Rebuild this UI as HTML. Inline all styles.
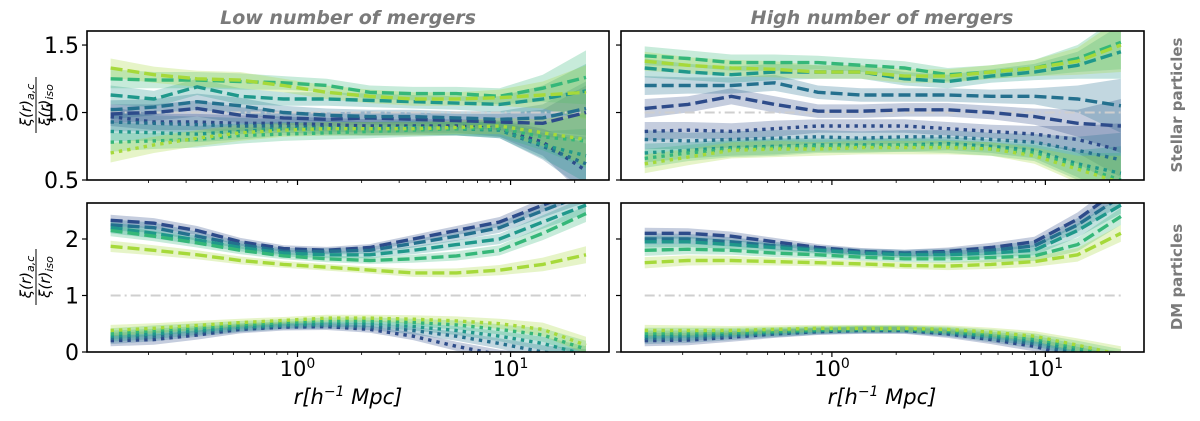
<!DOCTYPE html>
<html><head><meta charset="utf-8"><style>
html,body{margin:0;padding:0;background:#fff;width:1200px;height:421px;overflow:hidden}
svg{display:block;font-family:"DejaVu Sans","Liberation Sans",sans-serif}
</style></head><body>
<svg id="fig" width="1200" height="421" viewBox="0 0 1200 421"></svg>
<script>
// ---- data ----
const xLogMin = -0.877, xLogMax = 1.354;
const nPts = 12;
const colors = ["#2d4b8a","#24708e","#1f988b","#35b779","#a6d93a"]; // dark blue -> lime
const seriesNames = ["dark-blue","blue-teal","teal","green","lime"];

const lowStellarDash = [
 [0.99,1.00,1.03,0.98,0.96,0.95,0.96,0.95,0.94,0.93,0.92,1.00],
 [1.02,1.04,1.08,1.05,1.00,0.98,0.97,0.97,0.96,0.95,0.96,1.03],
 [1.13,1.10,1.19,1.12,1.10,1.10,1.09,1.08,1.07,1.06,1.10,1.16],
 [1.25,1.24,1.24,1.23,1.22,1.20,1.15,1.14,1.14,1.12,1.18,1.26],
 [1.33,1.28,1.25,1.24,1.20,1.15,1.12,1.10,1.10,1.11,1.13,1.15]];
const lowStellarDot = [
 [0.97,0.93,0.93,0.92,0.92,0.91,0.90,0.90,0.90,0.88,0.78,0.57],
 [0.93,0.92,0.91,0.90,0.90,0.89,0.88,0.88,0.88,0.87,0.75,0.62],
 [0.86,0.85,0.84,0.86,0.88,0.88,0.88,0.89,0.88,0.87,0.76,0.68],
 [0.78,0.79,0.80,0.83,0.84,0.85,0.86,0.87,0.88,0.88,0.82,0.79],
 [0.70,0.76,0.81,0.85,0.87,0.88,0.88,0.88,0.89,0.90,0.85,0.80]];
const highStellarDash = [
 [1.03,1.06,1.12,1.06,1.01,1.01,1.02,1.02,1.00,0.97,0.92,0.90],
 [1.20,1.20,1.20,1.22,1.15,1.13,1.13,1.13,1.12,1.12,1.10,1.05],
 [1.33,1.30,1.28,1.30,1.30,1.30,1.25,1.23,1.27,1.30,1.35,1.45],
 [1.42,1.40,1.37,1.37,1.37,1.35,1.33,1.28,1.30,1.33,1.40,1.52],
 [1.38,1.35,1.33,1.32,1.30,1.30,1.27,1.27,1.30,1.33,1.38,1.50]];
const highStellarDot = [
 [0.86,0.87,0.86,0.88,0.90,0.90,0.90,0.88,0.86,0.84,0.80,0.72],
 [0.80,0.79,0.80,0.81,0.82,0.81,0.82,0.82,0.80,0.78,0.72,0.65],
 [0.70,0.72,0.74,0.75,0.76,0.76,0.76,0.77,0.75,0.72,0.62,0.55],
 [0.66,0.70,0.73,0.74,0.75,0.75,0.76,0.75,0.73,0.70,0.60,0.50],
 [0.62,0.67,0.72,0.73,0.73,0.74,0.74,0.74,0.73,0.68,0.58,0.48]];
const lowDMDash = [
 [2.33,2.28,2.15,1.95,1.83,1.80,1.85,2.00,2.15,2.30,2.60,2.90],
 [2.25,2.20,2.05,1.90,1.78,1.78,1.80,1.92,2.05,2.20,2.50,2.80],
 [2.20,2.10,1.98,1.85,1.75,1.72,1.72,1.80,1.90,2.00,2.30,2.60],
 [2.15,2.05,1.93,1.80,1.70,1.65,1.62,1.65,1.70,1.80,2.10,2.45],
 [1.87,1.80,1.72,1.62,1.55,1.50,1.45,1.40,1.40,1.45,1.55,1.72]];
const lowDMDot = [
 [0.20,0.22,0.30,0.40,0.44,0.45,0.40,0.28,0.10,-0.05,-0.15,-0.20],
 [0.24,0.28,0.35,0.42,0.46,0.47,0.45,0.38,0.28,0.15,0.00,-0.10],
 [0.28,0.32,0.38,0.44,0.48,0.50,0.50,0.45,0.38,0.28,0.15,-0.05],
 [0.32,0.38,0.43,0.48,0.52,0.55,0.55,0.52,0.48,0.40,0.30,0.05],
 [0.38,0.42,0.47,0.52,0.56,0.60,0.60,0.58,0.55,0.50,0.40,0.12]];
const highDMDash = [
 [2.10,2.10,2.05,1.95,1.85,1.78,1.75,1.78,1.85,1.95,2.35,2.90],
 [2.00,2.00,1.95,1.88,1.82,1.77,1.75,1.76,1.80,1.88,2.25,2.75],
 [1.95,1.95,1.90,1.85,1.80,1.75,1.72,1.72,1.75,1.80,2.15,2.60],
 [1.80,1.82,1.80,1.75,1.72,1.68,1.65,1.65,1.67,1.70,1.90,2.40],
 [1.58,1.62,1.62,1.60,1.58,1.56,1.53,1.52,1.55,1.60,1.72,2.10]];
const highDMDot = [
 [0.20,0.21,0.26,0.32,0.36,0.38,0.38,0.32,0.22,0.10,-0.10,-0.25],
 [0.24,0.25,0.29,0.33,0.37,0.39,0.39,0.34,0.25,0.15,-0.03,-0.20],
 [0.28,0.29,0.32,0.35,0.38,0.40,0.40,0.36,0.28,0.20,0.02,-0.15],
 [0.33,0.34,0.35,0.37,0.40,0.41,0.41,0.38,0.32,0.24,0.08,-0.10],
 [0.38,0.38,0.38,0.40,0.42,0.42,0.42,0.40,0.35,0.28,0.12,-0.05]];
const errStellar = [0.07,0.06,0.06,0.06,0.05,0.05,0.05,0.05,0.05,0.06,0.10,0.20];
const errDM = [0.10,0.09,0.08,0.07,0.06,0.06,0.06,0.07,0.08,0.09,0.12,0.15];
const stellarTicks = [0.5,1.0,1.5];
const stellarTickLabels = ["0.5","1.0","1.5"];
const dmTicks = [0,1,2];
const dmTickLabels = ["0","1","2"];

// ---- drawing ----
const NS="http://www.w3.org/2000/svg";
const svg=document.getElementById('fig');
function el(tag,attrs,parent){const e=document.createElementNS(NS,tag);for(const k in attrs)e.setAttribute(k,attrs[k]);(parent||svg).appendChild(e);return e;}

const panels=[
 {name:"low-stellar",x0:87,x1:609,y0:31,y1:180,ymin:0.5,ymax:1.604,dash:lowStellarDash,dot:lowStellarDot,err:errStellar,ticks:stellarTicks,labels:stellarTickLabels,showY:true,showX:false},
 {name:"high-stellar",x0:621,x1:1144,y0:31,y1:180,ymin:0.5,ymax:1.604,dash:highStellarDash,dot:highStellarDot,err:errStellar,ticks:stellarTicks,labels:stellarTickLabels,showY:false,showX:false},
 {name:"low-dm",x0:87,x1:609,y0:203,y1:352,ymin:0,ymax:2.637,dash:lowDMDash,dot:lowDMDot,err:errDM,ticks:dmTicks,labels:dmTickLabels,showY:true,showX:true},
 {name:"high-dm",x0:621,x1:1144,y0:203,y1:352,ymin:0,ymax:2.637,dash:highDMDash,dot:highDMDot,err:errDM,ticks:dmTicks,labels:dmTickLabels,showY:false,showX:true}];

const axLogMin=-0.988, axLogMax=1.462;
panels.forEach((p,pi)=>{
  const xs=l=>p.x0+(l-axLogMin)/(axLogMax-axLogMin)*(p.x1-p.x0);
  const ys=v=>p.y1-(v-p.ymin)/(p.ymax-p.ymin)*(p.y1-p.y0);
  const xl=i=>xLogMin+i*(xLogMax-xLogMin)/(nPts-1);
  const g=el('g',{},svg);
  
  
  const cp=el('clipPath',{id:'clip'+pi},g);
  el('rect',{x:p.x0,y:p.y0,width:p.x1-p.x0,height:p.y1-p.y0},cp);
  const pg=el('g',{'clip-path':'url(#clip'+pi+')'},g);
  const groups=[{d:p.dash,style:'dash'},{d:p.dot,style:'dot'}];
  groups.forEach(gr=>{gr.d.forEach((vals,si)=>{
    let up=[],dn=[];
    vals.forEach((v,i)=>{up.push(xs(xl(i)).toFixed(1)+','+ys(v+p.err[i]).toFixed(1));dn.unshift(xs(xl(i)).toFixed(1)+','+ys(v-p.err[i]).toFixed(1));});
    const b=el('polygon',{points:up.concat(dn).join(' '),fill:colors[si],'fill-opacity':0.28,stroke:'none'},pg);
    
    
  });});
  const rl=el('line',{x1:xs(xLogMin),x2:xs(xLogMax),y1:ys(1),y2:ys(1),stroke:'#cfcfcf','stroke-width':2,'stroke-dasharray':'10 4 2 4'},pg);
  
  
  groups.forEach(gr=>{gr.d.forEach((vals,si)=>{
    const pts=vals.map((v,i)=>xs(xl(i)).toFixed(1)+','+ys(v).toFixed(1)).join(' ');
    const ln=el('polyline',{points:pts,fill:'none',stroke:colors[si],'stroke-width':3.4,'stroke-dasharray':gr.style==='dash'?'12 5':'3.4 5'},pg);
    
    
  });});
  const fr=el('rect',{x:p.x0,y:p.y0,width:p.x1-p.x0,height:p.y1-p.y0,fill:'none',stroke:'#000','stroke-width':1.6},g);
  
  
  for(let d=-1;d<=1;d++){for(let m=1;m<10;m++){const l=d+Math.log10(m);if(l<axLogMin||l>axLogMax)continue;
    const x=xs(l);el('line',{x1:x,x2:x,y1:p.y1,y2:p.y1+(m===1?5:3),stroke:'#000','stroke-width':m===1?1.2:0.8},g);
    if(m===1&&p.showX){const t=el('text',{x:x,y:p.y1+24,'text-anchor':'middle','font-size':21,fill:'#000'},g);
      
      
      t.innerHTML='10<tspan dy="-8" font-size="14">'+d+'</tspan>';}
  }}
  p.ticks.forEach((v,i)=>{const y=ys(v);el('line',{x1:p.x0-5,x2:p.x0,y1:y,y2:y,stroke:'#000','stroke-width':1.2},g);
    if(p.showY){const t=el('text',{x:p.x0-8,y:y+8,'text-anchor':'end','font-size':22,fill:'#000'},g);
      
      
      t.textContent=p.labels[i];}});
});
function txt(s,attrs,name){const t=el('text',attrs);t.innerHTML=s;return t;}
txt('Low number of mergers',{x:348,y:24,'text-anchor':'middle','font-size':19,'font-weight':'bold','font-style':'italic',fill:'#7a7a7a'},'title-low-mergers');
txt('High number of mergers',{x:882,y:24,'text-anchor':'middle','font-size':19,'font-weight':'bold','font-style':'italic',fill:'#7a7a7a'},'title-high-mergers');
txt('Stellar particles',{x:0,y:0,transform:'translate(1182,105) rotate(-90)','text-anchor':'middle','font-size':15,'font-weight':'bold',fill:'#7a7a7a'},'row-label-stellar');
txt('DM particles',{x:0,y:0,transform:'translate(1182,277) rotate(-90)','text-anchor':'middle','font-size':15,'font-weight':'bold',fill:'#7a7a7a'},'row-label-dm');
[[105,'y-axis-title-stellar'],[277,'y-axis-title-dm']].forEach(([cy,n])=>{
  const g=el('g',{transform:'translate(36,'+cy+') rotate(-90)'});
  
  
  const a=el('text',{x:0,y:-5,'text-anchor':'middle','font-size':15,'font-style':'italic'},g);
  a.innerHTML='ξ(r)<tspan dy="3" font-size="11">a,c</tspan>';
  el('line',{x1:-28,x2:28,y1:0,y2:0,stroke:'#000','stroke-width':1},g);
  const b=el('text',{x:0,y:14,'text-anchor':'middle','font-size':15,'font-style':'italic'},g);
  b.innerHTML='ξ(r)<tspan dy="3" font-size="11">iso</tspan>';
});
txt('r[h<tspan dy="-8" font-size="14">−1</tspan><tspan dy="8"> Mpc]</tspan>',{x:348,y:404,'text-anchor':'middle','font-size':21,'font-style':'italic'},'x-axis-title-left');
txt('r[h<tspan dy="-8" font-size="14">−1</tspan><tspan dy="8"> Mpc]</tspan>',{x:882,y:404,'text-anchor':'middle','font-size':21,'font-style':'italic'},'x-axis-title-right');
</script>
</body></html>
